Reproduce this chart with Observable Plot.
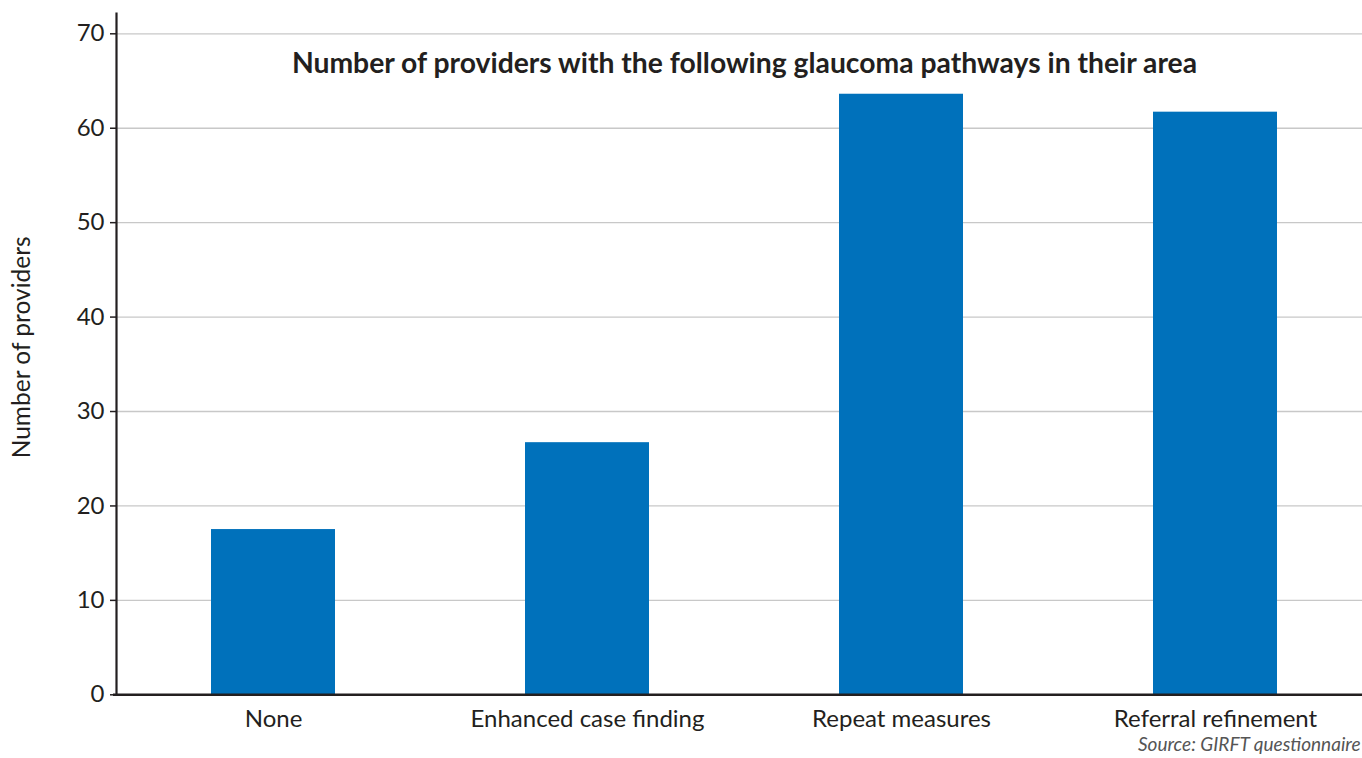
<!DOCTYPE html>
<html>
<head>
<meta charset="utf-8">
<script src="https://cdn.jsdelivr.net/npm/d3@7"></script>
<script src="https://cdn.jsdelivr.net/npm/@observablehq/plot@0.6"></script>
<style>
  html, body { margin: 0; padding: 0; background: #fff; overflow: hidden; }
  #chart svg { display: block; max-width: none !important; }
</style>
</head>
<body>
<div id="chart"></div>
<script>
const categories = ["None", "Enhanced case finding", "Repeat measures", "Referral refinement"];
const values = [17.5, 26.7, 63.6, 61.7];
const yTicks = [0, 10, 20, 30, 40, 50, 60, 70];
const titleText = ["Number of providers with the following glaucoma pathways in their area"];
const yLabelText = ["Number of providers"];
const sourceText = ["Source: GIRFT questionnaire"];

const data = categories.map((c, i) => ({category: c, value: values[i]}));
const ink = "#231f20";

const chart = Plot.plot({
  width: 1372,
  height: 758,
  marginLeft: 116,
  marginRight: 0,
  marginTop: 13,
  marginBottom: 63.7,
  style: {fontFamily: "Lato, 'Open Sans', sans-serif", color: ink, background: "#fff", overflow: "visible"},
  x: {domain: categories, paddingInner: 0.605, paddingOuter: 0.3, label: null},
  y: {domain: [0, 72.15], label: null},
  marks: [
    Plot.gridY(yTicks, {stroke: "#c8c8c8", strokeOpacity: 1, strokeWidth: 1.3}),
    Plot.barY(data, {x: "category", y: "value", fill: "#0071bb"}),
    Plot.axisY(yTicks, {tickSize: 6, tickPadding: 6, fontSize: 24, label: null, stroke: ink, strokeWidth: 1.5, fill: ink}),
    Plot.axisX({tickSize: 0, tickPadding: 15, fontSize: 24, label: null, fill: ink}),
    Plot.frame({anchor: "left", stroke: ink, strokeWidth: 2.2}),
    Plot.ruleY([0], {stroke: ink, strokeWidth: 2.6, dx: -3}),
    Plot.text(titleText, {frameAnchor: "top", dy: 39.5, fontSize: 28.3, fontWeight: "bold", fill: ink}),
    Plot.text(yLabelText, {frameAnchor: "left", y: [36.8], rotate: -90, dx: -94, textAnchor: "middle", fontSize: 24.5, fill: ink}),
    Plot.text(sourceText, {frameAnchor: "bottom-right", textAnchor: "end", dy: 56.3, dx: -12, fontSize: 19, fontStyle: "italic", fill: "#555"})
  ]
});
document.getElementById("chart").append(chart);
</script>
</body>
</html>
